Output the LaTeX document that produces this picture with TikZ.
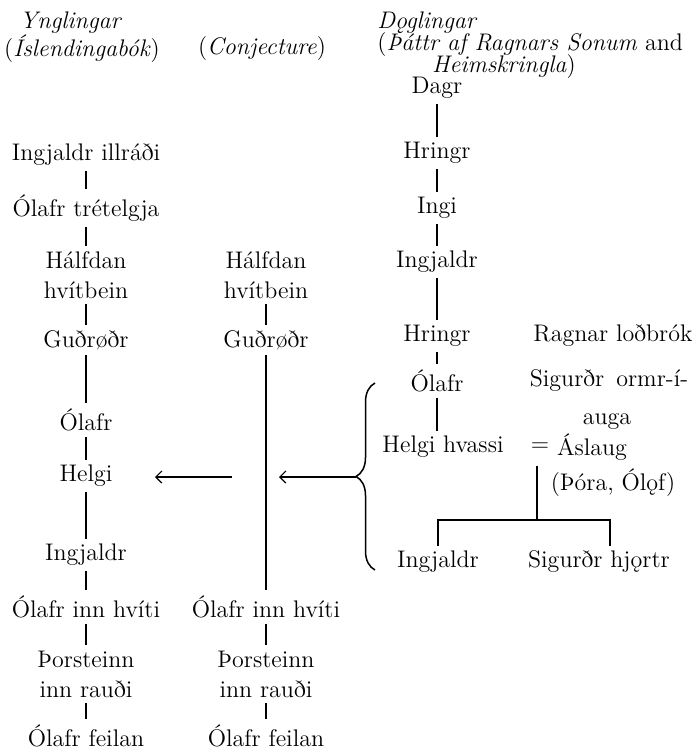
\documentclass[tikz,border=0pt]{standalone}
\usepackage{tikz}
\usetikzlibrary{arrows.meta,positioning,decorations.pathreplacing}

\begin{document}
\begin{tikzpicture}[
  x=0.5pt, y=-0.5pt,
  person/.style={font=\fontsize{12}{15}\selectfont, inner sep=2.5pt, align=center},
  heading/.style={font=\fontsize{12}{15}\selectfont, inner sep=0pt},
  descent/.style={line width=0.75pt},
  arrow/.style={-{Straight Barb[length=3pt,width=6pt]}, line width=0.6pt},
  bracket/.style={decorate, decoration={brace, amplitude=9.5pt}, line width=0.75pt}
]
  \useasboundingbox (0,0) rectangle (696,750);

  % Headings
  \node[heading] (yng) at (71,23) {\textit{Ynglingar}};
  \node[heading] (isl) at (82,49) {(\textit{Íslendingabók})};
  \node[heading] (conj) at (262,49) {(\textit{Conjecture})};
  \node[heading, anchor=west] (dog) at (377,23) {\textit{Dǫglingar}};
  \node[heading, anchor=west] (thattr) at (377,45) {(\textit{Þáttr af Ragnars Sonum} and};
  \node[heading] (heims) at (504,67) {\textit{Heimskringla})};

  % Ynglingar
  \node[person] (ingA) at (86,155) {Ingjaldr illráði};
  \node[person] (olT) at (86,208) {Ólafr trételgja};
  \node[person] (halfA) at (86,275) {Hálfdan\\hvítbein};
  \node[person] (gudA) at (86,340) {Guðrøðr};
  \node[person] (olA) at (86,420) {Ólafr};
  \node[person] (helA) at (86,476) {Helgi};
  \node[person] (ingB) at (86,555) {Ingjaldr};
  \node[person] (olHA) at (86,607) {Ólafr inn hvíti};
  \node[person] (thorA) at (86,674) {Þorsteinn\\inn rauði};
  \node[person] (olFA) at (86,736) {Ólafr feilan};

  % Conjecture
  \node[person] (halfB) at (266,275) {Hálfdan\\hvítbein};
  \node[person] (gudB) at (266,340) {Guðrøðr};
  \node[person] (olHB) at (266,607) {Ólafr inn hvíti};
  \node[person] (thorB) at (266,674) {Þorsteinn\\inn rauði};
  \node[person] (olFB) at (266,736) {Ólafr feilan};

  % Doglingar
  \node[person] (dagr) at (437,88) {Dagr};
  \node[person] (hrA) at (437,153) {Hringr};
  \node[person] (ingi) at (437,208) {Ingi};
  \node[person] (ingC) at (437,262) {Ingjaldr};
  \node[person] (hrB) at (437,336) {Hringr};
  \node[person] (ragnar) at (613,336) {Ragnar loðbrók};
  \node[person] (olC) at (437,381) {Ólafr};
  \node[person] (sigO) at (609,381) {Sigurðr\enspace ormr-í-};
  \node[person] (auga) at (607,422) {auga};
  \node[person] (helH) at (443,447) {Helgi hvassi};
  \node[person] (eq) at (540,447) {$=$};
  \node[person] (asl) at (592,447) {Áslaug};
  \node[person] (tora) at (613,483) {(Þóra, Ólǫf)};
  \node[person] (ingD) at (438,562) {Ingjaldr};
  \node[person] (sigH) at (599,562) {Sigurðr hjǫrtr};

  \coordinate (fork) at (537,520);
  \coordinate (dropR) at (610,520);

  % Lines of descent
  \foreach \a/\b in {ingA/olT, olT/halfA, halfA/gudA, gudA/olA, olA/helA,
      helA/ingB, ingB/olHA, olHA/thorA, thorA/olFA,
      halfB/gudB, gudB/olHB, olHB/thorB, thorB/olFB,
      dagr/hrA, hrA/ingi, ingi/ingC, ingC/hrB, hrB/olC}
    \draw[descent] (\a) -- (\b);
  \draw[descent] (olC) -- (olC |- helH.north);
  \draw[descent] (asl.south -| fork) -- (fork);
  \draw[descent] (ingD.north) |- (dropR) -- (dropR |- sigH.north);

  % Bracket and arrows
  \draw[bracket] (375,570) -- (375,383);
  \coordinate (braceTip) at (356,477);
  \coordinate (arrowB) at (279,477);
  \coordinate (arrowA) at (232,477);
  \coordinate (arrowAend) at (155,477);
  \draw[arrow] (braceTip) -- (arrowB);
  \draw[arrow] (arrowA) -- (arrowAend);
\end{tikzpicture}
\end{document}
